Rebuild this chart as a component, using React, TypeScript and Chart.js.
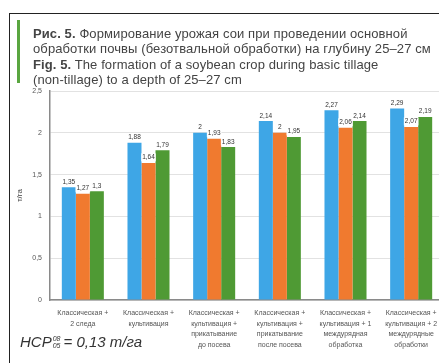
import React, { useEffect, useRef } from "react";
import { Chart, registerables } from "chart.js";

Chart.register(...registerables);

const categories: string[][] = [
  ["Классическая +", "2 следа"],
  ["Классическая +", "культивация"],
  ["Классическая +", "культивация +", "прикатывание", "до посева"],
  ["Классическая +", "культивация +", "прикатывание", "после посева"],
  ["Классическая +", "культивация + 1", "междурядная", "обработка"],
  ["Классическая +", "культивация + 2", "междурядные", "обработки"],
];
const seriesBlue = [1.35, 1.88, 2.0, 2.14, 2.27, 2.29];
const seriesOrange = [1.27, 1.64, 1.93, 2.0, 2.06, 2.07];
const seriesGreen = [1.3, 1.79, 1.83, 1.95, 2.14, 2.19];
const yTicks = [0, 0.5, 1, 1.5, 2, 2.5];

const fmt = (v: number) =>
  String(parseFloat(v.toFixed(2))).replace(".", ",");

const labelPlugin = {
  id: "barLabels",
  afterDatasetsDraw(chart: any) {
    const ctx = chart.ctx as CanvasRenderingContext2D;
    ctx.save();
    ctx.font = "6.5px 'Liberation Sans'";
    ctx.textAlign = "center";
    ctx.textBaseline = "alphabetic";
    chart.data.datasets.forEach((ds: any, i: number) => {
      const meta = chart.getDatasetMeta(i);
      meta.data.forEach((bar: any, j: number) => {
        const t = fmt(ds.data[j]);
        const w = ctx.measureText(t).width;
        ctx.fillStyle = "rgba(255,255,255,0.9)";
        ctx.fillRect(bar.x - w / 2 - 1, bar.y - 9.5, w + 2, 8);
        ctx.fillStyle = "#333";
        ctx.fillText(t, bar.x, bar.y - 3.5);
      });
    });
    ctx.restore();
  },
};

export default function App() {
  const ref = useRef<HTMLCanvasElement | null>(null);

  useEffect(() => {
    if (!ref.current) return;
    const chart = new Chart(ref.current, {
      type: "bar",
      data: {
        labels: categories,
        datasets: [
          { data: seriesBlue, backgroundColor: "#3ea6e6" },
          { data: seriesOrange, backgroundColor: "#f07a2f" },
          { data: seriesGreen, backgroundColor: "#4f9a34" },
        ],
      },
      options: {
        animation: false,
        responsive: false,
        events: [],
        layout: { padding: { top: 91, right: 6, left: 0, bottom: 0 } },
        datasets: {
          bar: { categoryPercentage: 0.64, barPercentage: 1.0 },
        },
        plugins: {
          legend: { display: false },
          tooltip: { enabled: false },
          title: { display: false },
        },
        scales: {
          x: {
            grid: { display: false, drawTicks: false },
            border: { color: "#8a8a8a", width: 1.5 },
            ticks: {
              autoSkip: false,
              maxRotation: 0,
              minRotation: 0,
              padding: 8,
              color: "#555",
              font: { family: "'Liberation Sans'", size: 7, lineHeight: "10.5px" },
            },
            afterFit: (s: any) => {
              s.height = 63;
            },
          },
          y: {
            min: 0,
            max: 2.5,
            afterBuildTicks: (s: any) => {
              s.ticks = yTicks.map((v) => ({ value: v }));
            },
            grid: { color: "#e2e2e2", lineWidth: 1, drawTicks: false },
            border: { color: "#8a8a8a", width: 1.5 },
            ticks: {
              padding: 8,
              color: "#555",
              font: { family: "'Liberation Sans'", size: 7 },
              callback: (v: any) => fmt(Number(v)),
            },
            title: {
              display: true,
              text: "т/га",
              color: "#444",
              font: { family: "'Liberation Sans'", size: 8, lineHeight: 1.2 },
              padding: { top: 15, bottom: 0 },
            },
            afterFit: (s: any) => {
              s.width = 50;
            },
          },
        },
      },
      plugins: [labelPlugin],
    });
    return () => chart.destroy();
  }, []);

  return (
    <div
      style={{
        position: "fixed",
        left: 0,
        top: 0,
        width: 439,
        height: 363,
        overflow: "hidden",
        background: "#fff",
        fontFamily: "'Liberation Sans', Arial, sans-serif",
      }}
    >
      <canvas
        ref={ref}
        width={450}
        height={363}
        style={{ position: "absolute", left: 0, top: 0, width: 450, height: 363 }}
      />
      <div
        style={{
          position: "absolute",
          left: 9,
          top: 13,
          width: 600,
          height: 600,
          borderLeft: "1.5px solid #222",
          borderTop: "1.5px solid #222",
          pointerEvents: "none",
        }}
      />
      <div
        style={{
          position: "absolute",
          left: 17,
          top: 20,
          width: 3,
          height: 63,
          background: "#5aa640",
        }}
      />
      <div
        style={{
          position: "absolute",
          left: 33,
          top: 26,
          width: 420,
          fontSize: 13,
          letterSpacing: "0.1px",
          lineHeight: "15.3px",
          color: "#444",
          whiteSpace: "nowrap",
        }}
      >
        <div>
          <b>Рис. 5.</b> Формирование урожая сои при проведении основной
        </div>
        <div>обработки почвы (безотвальной обработки) на глубину 25–27 см</div>
        <div>
          <b>Fig. 5.</b> The formation of a soybean crop during basic tillage
        </div>
        <div>(non-tillage) to a depth of 25–27 cm</div>
      </div>
      <div
        style={{
          position: "absolute",
          left: 20,
          top: 333,
          fontSize: 15,
          fontStyle: "italic",
          color: "#333",
          whiteSpace: "nowrap",
          display: "flex",
          alignItems: "center",
        }}
      >
        <span>НСР</span>
        <span
          style={{
            display: "inline-flex",
            flexDirection: "column",
            fontSize: 7,
            lineHeight: "7px",
            margin: "0 3px 0 1px",
          }}
        >
          <span>08</span>
          <span>05</span>
        </span>
        <span>= 0,13 т/га</span>
      </div>
    </div>
  );
}
